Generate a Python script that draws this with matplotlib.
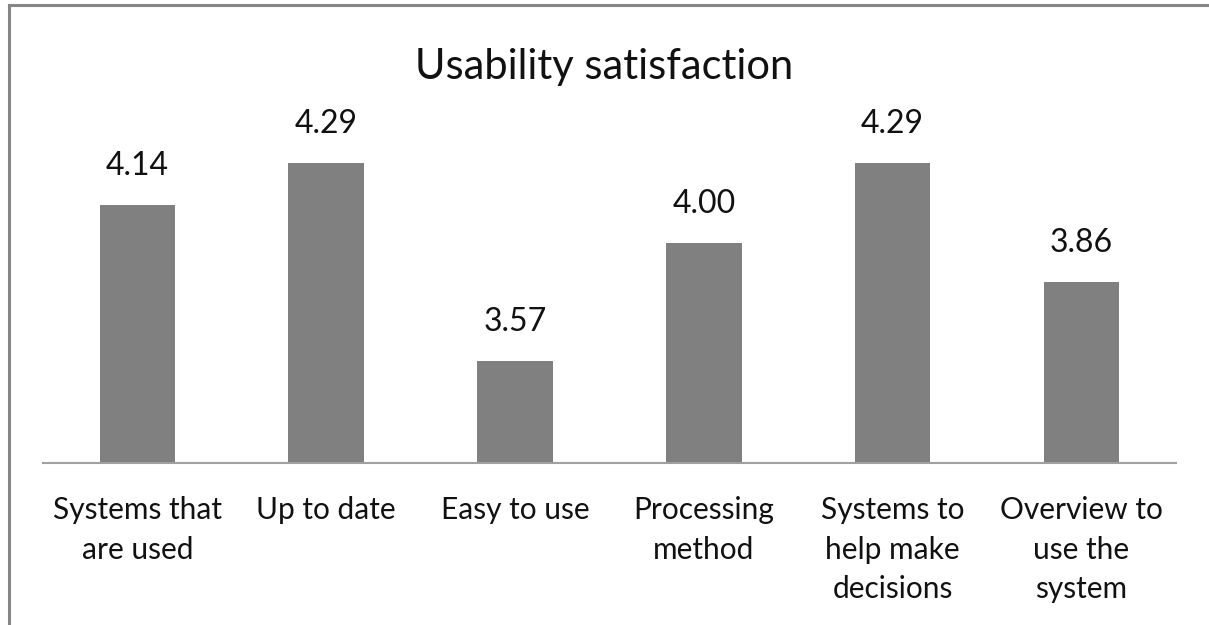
import matplotlib
matplotlib.use("Agg")
import matplotlib.pyplot as plt
from matplotlib.lines import Line2D

categories = ["Systems that\nare used", "Up to date", "Easy to use",
              "Processing\nmethod", "Systems to\nhelp make\ndecisions",
              "Overview to\nuse the\nsystem"]
scores = [4.14, 4.29, 3.57, 4.00, 4.29, 3.86]

plt.rcParams['font.family'] = ['Lato', 'DejaVu Sans']

fig = plt.figure(figsize=(12.09, 6.25), dpi=100)
ax = fig.add_axes([0.0356, 0.2592, 0.937, 0.616])

x = range(len(categories))
bars = ax.bar(x, scores, width=0.4, color='#808080', zorder=2)
ax.set_ylim(3.2, 4.6)
ax.set_xlim(-0.5, len(categories) - 0.5)

for b, v in zip(bars, scores):
    ax.annotate(f"{v:.2f}", (b.get_x() + b.get_width() / 2, v),
                xytext=(0, 28), textcoords='offset points',
                ha='center', va='center', fontsize=23, color='#111111')

ax.set_xticks(list(x))
ax.set_xticklabels(categories, fontsize=21.5, color='#111111', linespacing=1.5,
                   va='top')
ax.tick_params(axis='x', length=0, pad=24)
ax.set_yticks([])
for s in ['top', 'right', 'left']:
    ax.spines[s].set_visible(False)
ax.spines['bottom'].set_color('#a0a0a0')
ax.spines['bottom'].set_linewidth(1.5)

fig.text(0.4995, 0.893, "Usability satisfaction", ha='center', va='center',
         fontsize=30, color='#111111')

# outer chart frame (only left and top edges are in view)
fig.add_artist(Line2D([0.0074, 0.0074], [0, 0.9925], transform=fig.transFigure,
                      color='#868686', linewidth=2.2))
fig.add_artist(Line2D([0.0074, 1], [0.9925, 0.9925], transform=fig.transFigure,
                      color='#868686', linewidth=2.2))

fig.savefig("out.png", dpi=100)
